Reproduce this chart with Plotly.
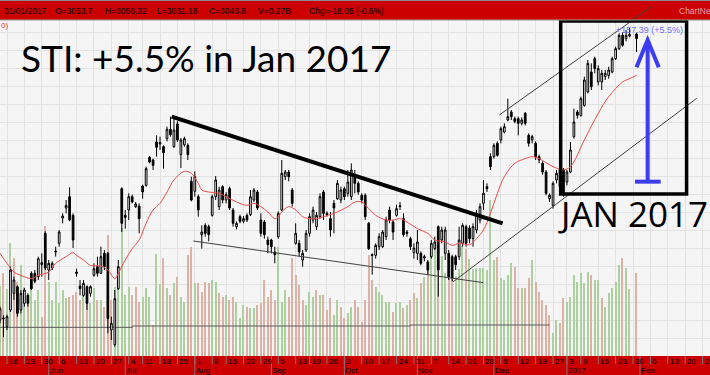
import numpy as np
import pandas as pd
import plotly.graph_objects as go

# ---------------- calendar (SGX trading days) ----------------
HOLIDAYS = ["2016-07-06", "2016-08-09", "2016-09-12", "2016-12-26", "2017-01-02"]
trading_days = [d for d in pd.bdate_range("2016-05-12", "2017-01-31")
                if d.strftime("%Y-%m-%d") not in HOLIDAYS]      # 2017-01-30 kept as an empty slot
future_days = list(pd.bdate_range("2017-02-01", "2017-02-28"))
calendar = trading_days + future_days
FIRST_IDX = -2
xpos = np.arange(len(calendar)) + FIRST_IDX
N = len(trading_days)
x = xpos[:N]

# ---------------- price data ----------------
open_ = [2620, 2623, 2610, 2635, 2660, 2670, 2635, 2645, 2657, 2690, 2690, 2685,
         2703, 2750, 2695, 2698, 2722, 2735, 2773, 2788, 2805, 2777,
         2692, 2671, 2657, 2670, 2660, 2687, 2700, 2690, 2720, 2720,
         2605, 2583, 2667, 2817, 2777, 2785, 2805, 2790, 2791, 2821,
         2822, 2864, 2860, 2887, 2884, 2880, 2892, 2906, 2880, 2914,
         2868, 2883, 2882, 2828, 2813, 2805, 2748, 2762, 2760, 2777,
         2805, 2790, 2820, 2800, 2817, 2785, 2760, 2775, 2768, 2777,
         2778, 2800, 2812, 2770, 2767, 2740, 2740, 2722, 2745, 2785,
         2835, 2842, 2815, 2735, 2735, 2710, 2725, 2750, 2770, 2760,
         2775, 2812, 2780, 2772, 2795, 2802, 2800, 2817, 2810, 2805,
         2835, 2825, 2807, 2807, 2765, 2718, 2717, 2730, 2730, 2745,
         2785, 2767, 2777, 2790, 2772, 2752, 2742, 2721, 2720, 2720,
         2713, 2707, 2715, 2727, 2760, 2740, 2720, 2720, 2715, 2715,
         2715, 2735, 2760, 2758, 2742, 2755, 2770, 2795, 2820, 2865,
         2865, 2885, 2890, 2902, 2920, 2932, 2922, 2922, 2915, 2930,
         2897, 2890, 2885, 2865, 2855, 2842, 2802, 2792, 2830, 2845,
         2845, 2827, 2842, 2895, 2932, 2927, 2942, 2962, 2992, 3012,
         2977, 2977, 2985, 2987, 2992, 3012, 3027, 3047, 3042, 3046,
         None, 3049]
high = [2640, 2627, 2628, 2700, 2685, 2672, 2665, 2668, 2660, 2693, 2695, 2715,
        2720, 2753, 2710, 2708, 2730, 2755, 2780, 2800, 2819, 2780,
        2697, 2680, 2680, 2672, 2672, 2705, 2715, 2730, 2725, 2722,
        2625, 2665, 2710, 2819, 2785, 2810, 2808, 2797, 2795, 2823,
        2850, 2866, 2862, 2897, 2895, 2882, 2910, 2925, 2925, 2918,
        2893, 2895, 2885, 2835, 2843, 2808, 2762, 2765, 2763, 2808,
        2836, 2820, 2822, 2812, 2820, 2788, 2768, 2778, 2776, 2780,
        2815, 2818, 2815, 2780, 2770, 2745, 2742, 2730, 2783, 2860,
        2845, 2845, 2818, 2765, 2740, 2725, 2755, 2780, 2790, 2782,
        2810, 2815, 2783, 2782, 2800, 2830, 2820, 2820, 2845, 2855,
        2845, 2828, 2810, 2810, 2767, 2720, 2735, 2750, 2755, 2775,
        2790, 2770, 2793, 2797, 2780, 2755, 2745, 2735, 2755, 2723,
        2718, 2710, 2740, 2745, 2762, 2760, 2760, 2725, 2718, 2718,
        2760, 2765, 2763, 2762, 2765, 2785, 2795, 2830, 2825, 2870,
        2885, 2888, 2910, 2915, 2952, 2935, 2925, 2925, 2924, 2932,
        2900, 2898, 2888, 2868, 2858, 2845, 2810, 2828, 2845, 2848,
        2848, 2845, 2887, 2937, 2935, 2955, 2985, 3010, 3005, 3015,
        3002, 2995, 2995, 3000, 3015, 3030, 3050, 3052, 3055, 3058,
        None, 3051]
low = [2615, 2594, 2605, 2632, 2650, 2625, 2630, 2640, 2640, 2665, 2675, 2680,
       2685, 2695, 2680, 2695, 2715, 2730, 2765, 2780, 2768, 2728,
       2685, 2657, 2655, 2635, 2655, 2685, 2685, 2690, 2695, 2600,
       2590, 2580, 2665, 2752, 2757, 2770, 2795, 2788, 2750, 2802,
       2820, 2855, 2845, 2865, 2875, 2847, 2888, 2895, 2878, 2887,
       2848, 2880, 2860, 2798, 2805, 2775, 2727, 2745, 2738, 2775,
       2800, 2785, 2795, 2795, 2785, 2760, 2756, 2765, 2765, 2767,
       2776, 2797, 2785, 2745, 2742, 2720, 2720, 2705, 2742, 2783,
       2830, 2828, 2790, 2733, 2715, 2700, 2722, 2745, 2765, 2755,
       2772, 2770, 2775, 2745, 2750, 2800, 2795, 2800, 2805, 2800,
       2810, 2808, 2795, 2770, 2725, 2688, 2712, 2725, 2728, 2740,
       2765, 2740, 2775, 2785, 2745, 2745, 2725, 2712, 2710, 2702,
       2708, 2688, 2712, 2725, 2655, 2735, 2710, 2680, 2678, 2695,
       2710, 2730, 2730, 2735, 2730, 2750, 2765, 2785, 2812, 2845,
       2862, 2865, 2885, 2900, 2918, 2920, 2915, 2897, 2912, 2912,
       2880, 2885, 2860, 2855, 2838, 2807, 2797, 2787, 2825, 2815,
       2805, 2822, 2840, 2892, 2922, 2925, 2940, 2960, 2965, 2990,
       2972, 2965, 2980, 2982, 2990, 3010, 3025, 3030, 3038, 3044,
       None, 3022]
close = [2637, 2622, 2625, 2695, 2680, 2630, 2660, 2665, 2645, 2667, 2678, 2712,
         2706, 2698, 2705, 2705, 2723, 2752, 2776, 2792, 2770, 2740,
         2690, 2667, 2675, 2645, 2670, 2697, 2690, 2715, 2700, 2622,
         2615, 2652, 2700, 2765, 2774, 2805, 2797, 2794, 2772, 2812,
         2847, 2857, 2852, 2879, 2886, 2871, 2906, 2898, 2905, 2890,
         2890, 2892, 2868, 2800, 2835, 2785, 2752, 2750, 2748, 2805,
         2830, 2815, 2800, 2808, 2788, 2765, 2765, 2768, 2772, 2770,
         2805, 2815, 2788, 2750, 2748, 2733, 2730, 2718, 2780, 2840,
         2842, 2835, 2795, 2750, 2722, 2720, 2750, 2775, 2785, 2777,
         2805, 2780, 2778, 2755, 2788, 2825, 2815, 2805, 2827, 2845,
         2825, 2812, 2800, 2775, 2727, 2717, 2732, 2745, 2752, 2770,
         2770, 2752, 2787, 2791, 2748, 2750, 2730, 2728, 2737, 2705,
         2715, 2695, 2735, 2737, 2695, 2755, 2755, 2685, 2683, 2703,
         2740, 2762, 2735, 2742, 2760, 2780, 2790, 2810, 2817, 2850,
         2882, 2867, 2907, 2910, 2925, 2925, 2918, 2915, 2920, 2915,
         2885, 2895, 2865, 2860, 2842, 2810, 2807, 2825, 2840, 2820,
         2808, 2842, 2875, 2917, 2927, 2952, 2980, 3005, 2970, 2997,
         2997, 2990, 2990, 2995, 3012, 3027, 3047, 3032, 3047, 3048,
         None, 3042]
volume_m = [210, 248, 200, 338, 293, 223, 273, 208, 168, 238, 168, 198,
            118, 390, 223, 168, 223, 158, 198, 173, 178, 183,
            193, 168, 198, 173, 158, 203, 168, 168, 148, 363,
            168, 208, 263, 383, 183, 208, 183, 208, 163, 178,
            203, 178, 93, 305, 215, 293, 203, 183, 218, 238,
            178, 163, 303, 328, 218, 218, 193, 223, 218, 228,
            223, 188, 178, 183, 168, 178, 163, 113, 153, 148,
            143, 143, 153, 158, 228, 178, 198, 168, 328, 163,
            198, 178, 293, 243, 213, 168, 153, 193, 178, 198,
            183, 183, 138, 173, 123, 168, 148, 113, 128, 148,
            168, 148, 103, 168, 303, 228, 208, 193, 183, 163,
            163, 133, 158, 163, 143, 153, 168, 188, 173, 218,
            238, 283, 333, 338, 353, 300, 250, 280, 230, 240,
            260, 330, 320, 290, 260, 265, 265, 263, 258, 468,
            288, 298, 233, 228, 243, 278, 268, 203, 203, 203,
            233, 288, 223, 193, 168, 153, 123, 68, 108, 98,
            173, 163, 178, 243, 223, 248, 218, 253, 243, 228,
            228, 173, 148, 188, 203, 223, 273, 293, 263, 200,
            None, 248]

# moving average (index, value)
ma_idx = [-2, 0, 2, 5, 7, 9, 12, 14, 17, 19, 20, 22, 24, 27, 29, 31, 32, 34, 36, 38,
          40, 42, 44, 46, 48, 51, 53, 55, 56, 58, 61, 63, 66, 69, 71, 73, 75, 77, 78, 79,
          81, 83, 85, 87, 89, 91, 94, 98, 100, 102, 104, 106, 109, 111, 113, 115, 118, 121,
          123, 126, 128, 130, 133, 135, 137, 139, 141, 143, 146, 149, 151, 153, 155, 157,
          159, 160, 162, 166, 170, 173, 177, 179, 181]
ma_val = [2720, 2705, 2692, 2685, 2682, 2687, 2692, 2705, 2715, 2721, 2717, 2710, 2702,
          2701, 2695, 2682, 2690, 2710, 2727, 2740, 2765, 2785, 2795, 2812, 2830, 2843,
          2840, 2825, 2815, 2812, 2810, 2805, 2797, 2792, 2795, 2790, 2782, 2772, 2775,
          2782, 2790, 2785, 2775, 2772, 2772, 2775, 2780, 2790, 2797, 2797, 2787, 2777,
          2770, 2770, 2772, 2767, 2757, 2750, 2740, 2737, 2732, 2735, 2733, 2742, 2755,
          2780, 2810, 2835, 2855, 2862, 2865, 2862, 2856, 2850, 2846, 2845, 2850, 2890,
          2930, 2955, 2977, 2982, 2987]

# flat reference line drawn in the volume panel (index, volume)
vref_idx = [-2, 36, 116, 156]
vref_val = [86, 90, 93, 93]

# ---------------- drawings (index, price) ----------------
downtrend = [(47.35, 2925), (142.5, 2765)]
wedge_low = [(53.57, 2738.5), (136.95, 2676)]
chan_up = [(141.55, 2927.5), (185.36, 3090)]
chan_low = [(128.3, 2677.5), (198.3, 2952.5)]
jan_box = [(159.2, 2809), (195.4, 3068.5)]
arrow_x, arrow_lo, arrow_hi = 184.2, 2827.5, 3040
arrow_wing = (3.2, 2999)
tbar = (180.56, 187.95)

# ---------------- styling ----------------
GREEN = "#acd0a0"
RED = "#ddb2a6"
PLOT_H = 336.0
X_RANGE = [-2.013, 202.13]
PRICE_RANGE = [2566, 3070]
VOL_RANGE = [0, 1008]

vol_colors = []
prev = None
for o, c in zip(open_, close):
    if c is None:
        vol_colors.append("rgba(0,0,0,0)")
        continue
    ref = prev if prev is not None else o
    vol_colors.append(GREEN if c >= ref else RED)
    prev = c

fig = go.Figure()
fig.add_trace(go.Bar(x=x, y=volume_m, marker=dict(color=vol_colors, line=dict(width=0)),
                     width=0.36, yaxis="y", hoverinfo="skip", showlegend=False))
fig.add_trace(go.Scatter(x=vref_idx, y=vref_val, mode="lines", line=dict(color="#5a5a5a", width=1, shape="hv"),
                         yaxis="y", hoverinfo="skip", showlegend=False))
fig.add_trace(go.Candlestick(x=x, open=open_, high=high, low=low, close=close, yaxis="y2",
                             increasing=dict(line=dict(color="black", width=1), fillcolor="white"),
                             decreasing=dict(line=dict(color="black", width=1), fillcolor="black"),
                             whiskerwidth=0, hoverinfo="skip", showlegend=False))
fig.add_trace(go.Scatter(x=ma_idx, y=ma_val, mode="lines", line=dict(color="#f04a4a", width=1, shape="spline"),
                         yaxis="y2", hoverinfo="skip", showlegend=False))

# ticks: first trading day of each week / month
week_ticks, month_ticks = [], []
for i in range(1, len(calendar)):
    d, p = calendar[i], calendar[i - 1]
    if d.isocalendar()[1] != p.isocalendar()[1]:
        week_ticks.append((xpos[i], str(d.day)))
    if d.month != p.month:
        month_ticks.append((xpos[i], "2017" if d.month == 1 else d.strftime("%b")))

shapes = []
def seg(p0, p1, color="#333333", width=1, yref="y2"):
    shapes.append(dict(type="line", xref="x", yref=yref, x0=p0[0], y0=p0[1], x1=p1[0], y1=p1[1],
                       line=dict(color=color, width=width)))

seg(*downtrend, color="black", width=4)
seg(*wedge_low, color="#404040")
seg(*chan_up, color="#404040")
seg(*chan_low, color="#404040")
# part of the upper channel line that runs over the header band
shapes.append(dict(type="line", xref="paper", yref="paper", x0=632 / 710, y0=1.0, x1=651.7 / 710,
                   y1=(356 - 6.7) / PLOT_H, line=dict(color="#404040", width=1)))
shapes.append(dict(type="rect", xref="x", yref="y2", x0=jan_box[0][0], y0=jan_box[0][1],
                   x1=jan_box[1][0], y1=jan_box[1][1], line=dict(color="black", width=3.5)))
BLUE = "#3c3cf0"
seg((arrow_x, arrow_lo), (arrow_x, arrow_hi - 3), color=BLUE, width=4)
shapes.append(dict(type="path", xref="x", yref="y2",
                   path=f"M {arrow_x - arrow_wing[0]},{arrow_wing[1]} L {arrow_x},{arrow_hi} L {arrow_x + arrow_wing[0]},{arrow_wing[1]}",
                   line=dict(color=BLUE, width=4)))
seg((tbar[0], arrow_lo), (tbar[1], arrow_lo), color=BLUE, width=4)

for xi, _ in week_ticks:
    shapes.append(dict(type="line", xref="x", yref="paper", x0=xi, x1=xi, y0=0, y1=-8 / PLOT_H,
                       line=dict(color="#8a7070", width=1)))
for xi, _ in month_ticks:
    shapes.append(dict(type="line", xref="x", yref="paper", x0=xi, x1=xi, y0=0, y1=-19 / PLOT_H,
                       line=dict(color="#8a7070", width=1)))
shapes.append(dict(type="line", xref="paper", yref="paper", x0=0, x1=1, y0=1, y1=1,
                   line=dict(color="#9a9a9a", width=1)))
shapes.append(dict(type="line", xref="paper", yref="paper", x0=0, x1=1, y0=1 + 19.5 / PLOT_H, y1=1 + 19.5 / PLOT_H,
                   line=dict(color="#8a8a8a", width=1)))

ann = []
def ptext(px, py, text, size, color="black", family="Liberation Sans", anchor="left"):
    ann.append(dict(xref="paper", yref="paper", x=px / 710, y=(356 - py) / PLOT_H, text=text,
                    showarrow=False, xanchor=anchor, yanchor="middle",
                    font=dict(size=size, color=color, family=family)))

header = [(2, "31/01/2017"), (53, "O=3053.7"), (103, "H=3056.32"), (155, "L=3031.18"),
          (207, "C=3046.8"), (256, "V=0.27B"), (307, "Chg=-18.05 (-0.6%)")]
for px, t in header:
    ptext(px, 11.5, t, 8.5)
ptext(677, 11.5, "ChartNexus", 8.5, color="#eaa2a2")
ptext(-1, 25.5, "0)", 8, color="#e03a3a")
ptext(19, 57, "STI: +5.5% in Jan 2017", 37, family="Lato")
ptext(556, 214, "JAN 2017", 35, family="Open Sans")
ptext(614, 29.5, "+157.39 (+5.5%)", 9, color="#7070f2")

for xi, t in week_ticks:
    ann.append(dict(xref="x", yref="paper", x=xi, y=-5.2 / PLOT_H, text=t, showarrow=False,
                    xanchor="left", yanchor="middle", xshift=0,
                    font=dict(size=8, color="black", family="Liberation Sans")))
for xi, t in month_ticks:
    ann.append(dict(xref="x", yref="paper", x=xi, y=-14.3 / PLOT_H, text=t, showarrow=False,
                    xanchor="left", yanchor="middle", xshift=-1,
                    font=dict(size=8, color="black", family="Liberation Sans")))

fig.update_layout(
    width=710, height=375,
    margin=dict(l=0, r=0, t=20, b=19, autoexpand=False),
    paper_bgcolor="#cc0000", plot_bgcolor="#f5f5f5",
    showlegend=False, bargap=0,
    xaxis=dict(range=X_RANGE, tickvals=[w[0] for w in week_ticks], showticklabels=False, ticks="",
               showgrid=True, gridcolor="#e2e2e2", gridwidth=1, zeroline=False, showline=False,
               rangeslider=dict(visible=False), fixedrange=True),
    yaxis=dict(range=VOL_RANGE, tick0=0, dtick=54, showticklabels=False, ticks="", showgrid=True,
               gridcolor="#e2e2e2", zeroline=False, showline=False, fixedrange=True),
    yaxis2=dict(range=PRICE_RANGE, overlaying="y", showticklabels=False, ticks="", showgrid=False,
                zeroline=False, showline=False, fixedrange=True),
    shapes=shapes, annotations=ann,
)
fig.write_html("out.html", config={"displayModeBar": False})
